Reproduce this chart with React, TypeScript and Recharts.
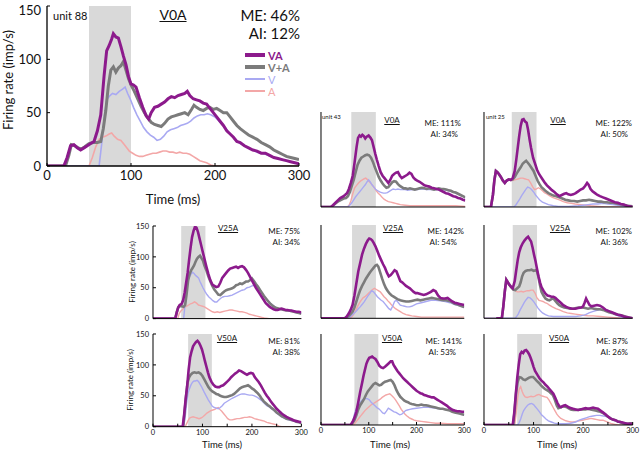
import React from 'react';
import { LineChart, Line, XAxis, YAxis, ReferenceArea } from 'recharts';

type Pt = [number, number];

// colours
const PURPLE = '#8c1a8c';
const GRAY = '#7b7b7b';
const LAV = '#a9a9f2';
const PINK = '#f3a7a7';
const BOX = '#d9d9d9';
const FONT = 'Lato, "Open Sans", sans-serif';

// ---- unit 88, V0A (big panel) ----
const u88VA: Pt[] = [[0,0],[20,0],[24,8],[28,19],[32,20],[36,17],[40,15],[44,17],[48,19],[52,21],[56,23],[60,33],[64,48],[68,85],[71,108],[74,113],[77,119],[79,124],[82,121],[85,120],[88,112],[91,103],[94,95],[97,84],[100,77],[103,76],[106,74],[110,64],[114,55],[118,47],[121,44],[124,50],[128,55],[132,56],[136,58],[140,60],[144,63],[148,65],[152,64],[156,66],[160,67],[164,68],[167,70],[170,66],[174,63],[178,62],[182,61],[186,59],[190,58],[194,54],[198,50],[202,46],[206,42],[210,38],[214,33],[218,30],[222,27],[226,23],[230,22],[235,19],[240,17],[245,15],[250,14],[255,12],[260,12],[265,10],[270,8],[275,7],[280,6],[285,5],[290,4],[295,3],[300,2]];
const u88VpA: Pt[] = [[0,0],[22,0],[26,10],[29,20],[33,19],[37,17],[41,16],[45,18],[50,21],[55,22],[60,22],[64,23],[67,35],[70,52],[73,75],[76,90],[79,93],[82,88],[85,92],[88,94],[91,98],[94,90],[97,82],[100,76],[104,70],[108,63],[112,56],[116,50],[120,45],[124,41],[128,39],[132,38],[136,37],[140,40],[144,44],[148,46],[152,47],[156,48],[160,49],[164,50],[168,48],[172,53],[175,57],[178,55],[182,53],[186,52],[190,54],[194,55],[198,53],[202,54],[206,52],[210,50],[214,50],[218,46],[222,42],[226,38],[230,35],[235,32],[240,29],[245,27],[250,25],[255,22],[260,20],[265,18],[270,15],[275,13],[280,11],[285,9],[290,8],[295,7],[300,6]];
const u88V: Pt[] = [[0,0],[62,0],[65,20],[68,45],[71,62],[75,66],[78,68],[82,67],[86,70],[90,72],[93,74],[96,68],[99,63],[103,55],[107,48],[111,42],[115,36],[119,32],[123,29],[127,27],[131,24],[135,25],[139,28],[143,32],[147,34],[151,35],[155,36],[159,38],[163,39],[167,40],[171,42],[175,45],[179,47],[183,48],[187,48],[191,49],[195,48],[200,46],[206,41],[212,36],[218,30],[224,25],[230,21],[240,17],[250,13],[260,11],[270,8],[280,6],[290,4],[300,2]];
const u88A: Pt[] = [[0,0],[50,0],[54,8],[58,18],[62,25],[66,27],[70,28],[74,30],[77,31],[80,28],[84,25],[88,24],[91,21],[94,18],[98,14],[102,12],[106,10],[110,9],[114,9],[118,10],[122,11],[126,12],[130,12],[134,13],[138,14],[142,14],[146,13],[150,13],[154,12],[158,13],[162,12],[166,12],[170,11],[174,9],[178,7],[182,5],[186,4],[190,3],[195,1],[200,0],[300,0]];

// ---- unit 43, V0A ----
const u43VA: Pt[] = [[0,0],[20,0],[25,3],[30,7],[35,11],[40,15],[45,17],[50,20],[54,23],[58,30],[62,40],[66,52],[70,75],[74,100],[77,115],[80,119],[83,117],[86,120],[89,118],[92,114],[95,117],[99,119],[103,115],[106,111],[110,98],[113,88],[116,79],[120,68],[124,58],[128,52],[132,48],[136,44],[140,40],[144,45],[148,52],[152,55],[156,57],[160,58],[164,52],[168,48],[172,50],[176,52],[180,54],[184,57],[188,55],[192,49],[196,46],[200,44],[205,42],[210,39],[215,36],[220,35],[225,34],[230,32],[235,31],[240,30],[245,29],[250,27],[255,25],[260,23],[265,22],[270,20],[275,18],[280,17],[285,15],[290,14],[295,12],[300,11]];
const u43VpA: Pt[] = [[0,0],[22,0],[27,4],[32,7],[37,10],[42,12],[47,14],[52,15],[56,18],[60,25],[64,35],[68,45],[72,58],[76,70],[80,77],[84,82],[88,84],[92,86],[96,87],[100,86],[104,82],[108,75],[112,66],[116,58],[120,50],[124,44],[128,39],[132,35],[136,32],[140,33],[144,37],[148,41],[152,43],[156,42],[160,38],[164,35],[168,33],[172,31],[176,31],[180,30],[185,31],[190,30],[195,29],[200,30],[205,31],[210,32],[215,31],[220,30],[225,31],[230,30],[235,29],[240,30],[245,31],[250,30],[255,30],[260,29],[265,28],[270,27],[275,25],[280,24],[285,22],[290,20],[295,18],[300,16]];
const u43V: Pt[] = [[0,0],[55,0],[60,3],[64,7],[68,12],[72,17],[76,21],[80,25],[84,29],[88,33],[92,37],[96,42],[99,45],[102,42],[106,37],[110,33],[114,29],[118,27],[122,25],[126,24],[130,23],[134,23],[138,24],[142,26],[146,28],[150,30],[155,29],[160,30],[165,29],[170,29],[175,29],[180,28],[190,29],[200,29],[210,30],[220,29],[230,29],[240,29],[250,29],[260,28],[270,26],[280,23],[290,20],[300,15]];
const u43A: Pt[] = [[0,0],[55,0],[59,4],[62,10],[66,22],[70,32],[74,36],[78,40],[82,43],[86,45],[90,47],[93,48],[96,46],[99,43],[103,40],[107,36],[111,32],[115,27],[119,23],[123,20],[127,16],[131,13],[135,11],[140,9],[145,8],[150,7],[155,6],[160,5],[165,4],[175,3],[185,2],[200,2],[220,2],[240,2],[260,2],[280,2],[300,1]];

// ---- unit 25, V0A ----
const u25VA: Pt[] = [[0,0],[14,0],[18,20],[21,45],[24,60],[27,58],[30,55],[34,50],[38,44],[42,40],[46,44],[50,46],[54,45],[58,48],[62,60],[65,78],[68,98],[71,118],[74,135],[77,145],[80,146],[83,142],[86,140],[89,128],[92,112],[95,98],[99,82],[103,72],[107,62],[111,55],[115,50],[119,45],[123,40],[127,36],[132,32],[137,28],[142,25],[147,21],[152,18],[157,20],[162,22],[166,23],[170,21],[175,20],[180,21],[185,23],[190,26],[195,29],[200,31],[204,35],[208,40],[211,37],[215,30],[219,26],[224,23],[229,20],[234,18],[240,16],[246,14],[252,12],[258,10],[264,8],[270,7],[276,5],[282,4],[288,2],[294,1],[300,0]];
const u25VpA: Pt[] = [[0,0],[14,0],[18,20],[21,45],[24,60],[27,58],[30,55],[34,50],[38,44],[42,40],[46,44],[50,46],[54,45],[58,46],[62,50],[66,56],[70,61],[74,66],[78,72],[82,75],[85,77],[88,74],[92,70],[96,65],[100,60],[104,52],[108,44],[112,38],[116,33],[120,30],[125,26],[130,23],[135,21],[140,19],[146,18],[152,16],[158,14],[164,12],[170,11],[176,10],[182,10],[188,9],[194,10],[200,11],[206,11],[212,12],[218,11],[224,10],[230,9],[236,9],[242,8],[248,8],[254,7],[260,7],[266,6],[272,5],[278,4],[284,3],[290,2],[300,1]];
const u25V: Pt[] = [[0,0],[60,0],[64,3],[68,8],[72,13],[76,19],[80,24],[84,29],[88,33],[92,32],[96,29],[100,25],[104,20],[108,16],[112,12],[118,8],[124,6],[130,4],[140,2],[150,1],[170,1],[190,2],[200,3],[210,4],[220,5],[230,5],[240,6],[250,5],[260,4],[270,3],[280,1],[290,0],[300,0]];
const u25A: Pt[] = [[0,0],[14,0],[18,20],[21,45],[24,60],[27,58],[30,55],[34,50],[38,44],[42,40],[46,44],[50,46],[54,45],[58,44],[62,45],[66,46],[70,47],[74,48],[78,48],[82,47],[86,46],[90,45],[94,40],[98,34],[102,29],[106,30],[110,32],[114,30],[118,27],[122,24],[126,22],[132,19],[138,16],[145,14],[152,12],[160,9],[168,7],[176,6],[184,5],[195,4],[205,3],[215,2],[230,1],[245,0],[300,0]];

// ---- V25A, ME 75% ----
const r2lVA: Pt[] = [[0,0],[45,0],[48,10],[51,18],[54,22],[58,24],[61,30],[64,42],[67,58],[70,74],[73,95],[76,115],[79,132],[82,142],[85,149],[88,147],[91,140],[94,130],[97,120],[100,110],[104,97],[108,84],[112,72],[116,62],[120,55],[124,53],[128,51],[132,52],[136,58],[140,66],[144,70],[148,74],[152,78],[156,81],[160,82],[164,83],[168,84],[172,82],[176,84],[180,85],[184,83],[188,79],[192,74],[196,68],[200,62],[204,56],[208,50],[212,45],[216,40],[220,35],[224,30],[228,25],[232,22],[236,19],[240,17],[244,15],[248,14],[252,14],[256,15],[260,16],[264,15],[268,14],[272,14],[276,13],[280,13],[285,12],[290,11],[295,11],[300,10]];
const r2lVpA: Pt[] = [[0,0],[45,0],[48,10],[51,18],[54,21],[58,20],[62,19],[65,22],[68,40],[71,62],[74,72],[77,78],[80,82],[83,86],[86,92],[89,97],[92,100],[95,102],[98,98],[101,94],[104,86],[108,78],[112,68],[116,60],[120,53],[124,47],[128,43],[132,39],[136,38],[140,41],[144,44],[148,46],[152,47],[156,48],[160,49],[164,51],[168,54],[172,55],[176,57],[180,56],[184,58],[188,60],[192,60],[196,62],[200,65],[204,61],[208,56],[212,52],[216,47],[220,42],[224,37],[228,33],[232,29],[236,25],[240,22],[245,19],[250,17],[255,16],[260,15],[265,14],[270,13],[275,13],[280,12],[285,11],[290,10],[295,9],[300,8]];
const r2lV: Pt[] = [[0,0],[62,0],[65,25],[68,50],[71,62],[74,68],[77,72],[80,75],[83,73],[86,70],[89,68],[92,66],[95,60],[98,55],[101,50],[105,44],[109,39],[113,35],[117,32],[121,29],[125,27],[129,27],[133,30],[137,33],[141,35],[145,36],[150,36],[155,37],[160,38],[165,40],[170,42],[175,44],[180,46],[185,47],[190,50],[195,51],[200,53],[205,54],[210,52],[215,48],[220,42],[225,36],[230,31],[235,27],[240,23],[245,20],[250,17],[255,16],[260,15],[270,13],[280,12],[290,10],[300,8]];
const r2lA: Pt[] = [[0,0],[50,0],[53,8],[56,12],[60,15],[64,18],[68,20],[72,22],[76,24],[80,25],[84,27],[88,25],[92,22],[96,21],[100,20],[104,19],[108,17],[112,15],[116,13],[120,11],[125,10],[130,11],[135,10],[140,11],[145,12],[150,13],[155,14],[160,14],[165,13],[170,12],[175,11],[180,11],[185,10],[190,9],[195,7],[200,6],[205,5],[210,4],[215,3],[220,2],[225,1],[235,0],[300,0]];

// ---- V25A, ME 142% ----
const r2mVA: Pt[] = [[0,0],[50,0],[54,3],[58,8],[62,14],[66,22],[70,38],[74,58],[78,78],[82,92],[86,106],[90,116],[94,124],[98,130],[101,133],[104,132],[107,130],[110,126],[114,120],[118,112],[122,104],[126,97],[130,90],[134,84],[138,76],[142,70],[146,72],[150,76],[154,80],[158,78],[162,70],[166,62],[170,60],[174,57],[178,54],[182,52],[186,50],[190,47],[194,44],[198,42],[202,42],[206,41],[210,40],[215,39],[220,40],[225,42],[230,44],[235,47],[240,45],[245,38],[250,34],[255,33],[260,33],[265,34],[270,31],[275,28],[280,26],[285,25],[290,24],[295,23],[300,22]];
const r2mVpA: Pt[] = [[0,0],[50,0],[54,2],[58,4],[62,7],[66,11],[70,18],[74,28],[78,38],[82,47],[86,54],[90,60],[94,66],[98,71],[102,76],[106,80],[110,84],[114,88],[117,89],[120,86],[124,76],[128,66],[132,57],[136,50],[140,45],[144,41],[148,38],[152,36],[156,34],[160,32],[166,30],[172,29],[178,28],[184,28],[190,29],[196,30],[202,31],[208,30],[214,31],[220,32],[226,33],[232,34],[238,33],[244,32],[250,31],[256,30],[262,30],[268,29],[274,27],[280,24],[286,23],[292,21],[300,19]];
const r2mV: Pt[] = [[0,0],[58,0],[62,3],[66,6],[70,9],[74,12],[78,16],[82,19],[86,23],[90,27],[94,32],[98,37],[102,41],[106,46],[110,44],[114,40],[118,36],[122,33],[126,30],[130,28],[134,24],[138,20],[142,16],[146,14],[150,20],[154,28],[158,30],[162,26],[166,22],[170,21],[175,20],[180,19],[185,19],[190,20],[195,22],[200,24],[210,26],[220,28],[230,30],[240,30],[250,29],[260,28],[270,26],[280,23],[290,21],[300,18]];
const r2mA: Pt[] = [[0,0],[60,0],[64,2],[68,6],[72,12],[76,19],[80,25],[84,30],[88,34],[92,36],[96,39],[100,42],[104,45],[108,48],[112,50],[116,48],[120,46],[124,44],[128,40],[132,36],[136,33],[140,29],[144,26],[148,22],[152,19],[156,16],[160,14],[166,11],[172,8],[178,6],[184,5],[190,4],[200,3],[210,2],[225,2],[240,2],[260,2],[280,2],[300,2]];

// ---- V25A, ME 102% ----
const r2rVA: Pt[] = [[25,0],[36,0],[39,20],[42,45],[45,64],[48,60],[51,56],[55,52],[58,50],[62,62],[65,80],[68,97],[71,110],[74,118],[78,125],[82,130],[86,134],[89,136],[92,132],[95,128],[98,118],[101,106],[104,95],[107,82],[110,70],[113,60],[116,52],[120,46],[124,41],[128,38],[132,37],[136,36],[140,36],[144,34],[148,31],[152,28],[156,25],[160,22],[166,19],[172,17],[178,16],[184,16],[190,17],[196,18],[200,20],[203,26],[206,33],[209,28],[213,22],[217,20],[222,21],[228,22],[234,21],[240,18],[246,14],[252,12],[258,10],[264,8],[270,6],[276,5],[282,3],[288,2],[294,1],[300,0]];
const r2rVpA: Pt[] = [[25,0],[36,0],[39,20],[42,45],[45,64],[48,60],[51,56],[55,52],[59,48],[63,47],[67,50],[71,53],[74,60],[77,70],[80,76],[84,79],[88,80],[92,80],[96,81],[100,79],[104,80],[107,78],[110,68],[113,55],[116,44],[120,38],[124,33],[128,31],[132,30],[136,32],[140,33],[144,29],[148,25],[152,22],[156,20],[162,18],[168,17],[174,16],[180,16],[186,17],[192,18],[198,18],[204,17],[210,16],[216,17],[222,16],[228,15],[234,15],[240,14],[246,12],[252,10],[258,9],[264,7],[270,6],[276,5],[282,4],[288,2],[294,1],[300,0]];
const r2rV: Pt[] = [[0,0],[62,0],[65,2],[69,7],[73,14],[77,20],[81,26],[85,31],[89,35],[93,34],[97,31],[101,27],[105,22],[109,17],[113,13],[118,9],[124,6],[130,4],[140,3],[155,3],[170,3],[185,3],[195,4],[205,6],[212,9],[219,11],[226,13],[233,14],[240,15],[247,14],[254,11],[261,8],[268,5],[275,3],[282,1],[290,0],[300,0]];
const r2rA: Pt[] = [[0,0],[36,0],[39,20],[42,45],[45,64],[48,60],[51,56],[55,52],[59,48],[63,46],[67,44],[71,44],[75,45],[79,44],[83,45],[87,46],[91,46],[95,47],[99,47],[103,42],[107,34],[111,30],[115,29],[119,28],[123,26],[127,25],[132,22],[138,19],[145,16],[152,14],[160,11],[168,9],[176,8],[184,7],[192,6],[200,5],[210,4],[220,4],[235,3],[250,2],[265,1],[280,0],[300,0]];

// ---- V50A, ME 81% ----
const r3lVA: Pt[] = [[0,0],[60,0],[63,20],[66,45],[69,65],[72,92],[75,112],[78,122],[81,130],[84,134],[87,137],[90,139],[93,136],[96,131],[99,125],[102,116],[105,106],[108,97],[111,88],[114,80],[118,73],[122,68],[126,65],[130,64],[134,64],[138,66],[142,67],[146,70],[150,73],[154,76],[158,80],[162,83],[166,86],[170,88],[174,91],[178,90],[182,88],[186,86],[190,84],[194,86],[198,87],[202,86],[206,80],[210,76],[214,72],[218,67],[222,61],[226,55],[230,50],[234,46],[238,41],[242,37],[246,33],[250,29],[254,26],[258,23],[262,20],[266,18],[270,16],[275,14],[280,12],[285,10],[290,9],[295,8],[300,7]];
const r3lVpA: Pt[] = [[0,0],[61,0],[64,25],[67,50],[70,72],[73,80],[76,84],[80,87],[84,88],[88,87],[92,88],[96,86],[100,82],[104,76],[108,70],[112,64],[116,60],[120,57],[124,55],[128,53],[132,52],[136,50],[140,49],[144,48],[148,48],[152,49],[156,50],[160,51],[164,53],[168,56],[172,59],[176,62],[180,64],[184,65],[188,66],[192,67],[196,65],[200,62],[204,60],[208,57],[212,54],[216,50],[220,45],[224,41],[228,38],[232,35],[236,33],[240,30],[245,27],[250,23],[255,20],[260,17],[265,15],[270,13],[275,12],[280,11],[285,10],[290,8],[295,7],[300,6]];
const r3lV: Pt[] = [[0,0],[62,0],[65,15],[68,38],[71,55],[74,62],[77,68],[80,72],[83,74],[86,74],[89,75],[92,73],[95,69],[98,65],[101,60],[104,55],[108,49],[112,43],[116,38],[120,33],[124,31],[128,30],[132,29],[136,31],[140,34],[144,38],[148,40],[152,42],[156,44],[160,46],[165,48],[170,50],[175,52],[180,53],[185,53],[190,52],[195,51],[200,51],[205,50],[210,48],[215,45],[220,42],[225,38],[230,34],[235,32],[240,29],[245,26],[250,22],[255,19],[260,16],[265,14],[270,12],[280,10],[290,8],[300,6]];
const r3lA: Pt[] = [[0,0],[65,0],[68,5],[71,10],[74,14],[77,15],[81,16],[85,15],[89,14],[93,13],[97,14],[101,16],[105,19],[109,22],[113,24],[117,26],[121,27],[125,28],[129,30],[132,31],[135,28],[139,25],[143,21],[147,17],[151,13],[155,11],[160,11],[165,12],[170,13],[175,13],[180,14],[185,15],[190,15],[195,16],[200,15],[205,13],[210,12],[215,11],[220,10],[225,9],[230,7],[235,6],[240,5],[245,4],[250,3],[255,1],[260,0],[300,0]];

// ---- V50A, ME 141% ----
const r3mVA: Pt[] = [[0,0],[62,0],[66,5],[70,12],[74,22],[78,38],[82,55],[86,70],[89,82],[92,92],[95,102],[98,108],[101,112],[104,113],[107,114],[110,112],[114,110],[118,105],[122,99],[126,96],[130,95],[134,97],[138,100],[142,103],[146,106],[149,106],[152,100],[156,95],[160,90],[164,86],[168,82],[172,78],[176,75],[180,72],[184,69],[188,66],[192,63],[196,60],[200,57],[204,55],[208,53],[212,52],[216,50],[220,49],[224,48],[228,47],[232,46],[236,46],[240,44],[244,42],[248,40],[252,38],[256,36],[260,34],[264,32],[268,29],[272,27],[276,25],[280,24],[285,23],[290,23],[295,22],[300,22]];
const r3mVpA: Pt[] = [[0,0],[62,0],[66,3],[70,8],[74,16],[78,26],[82,33],[86,38],[90,43],[94,50],[98,56],[102,60],[106,64],[110,68],[114,70],[118,68],[122,66],[126,67],[130,70],[134,72],[138,73],[142,74],[146,75],[150,72],[154,66],[158,58],[162,52],[166,47],[170,44],[174,41],[178,39],[182,38],[186,36],[190,35],[195,34],[200,33],[205,33],[210,34],[215,33],[220,33],[225,32],[230,31],[235,30],[240,29],[245,28],[250,27],[255,27],[260,26],[265,25],[270,24],[275,22],[280,21],[285,20],[290,19],[295,18],[300,17]];
const r3mV: Pt[] = [[0,0],[64,0],[67,8],[70,18],[73,26],[77,32],[81,37],[85,41],[89,43],[93,44],[97,44],[101,42],[105,38],[109,35],[113,32],[117,29],[121,27],[125,24],[129,20],[133,19],[137,23],[141,28],[145,26],[149,24],[153,22],[157,21],[161,19],[165,17],[169,18],[173,21],[177,24],[181,25],[186,26],[192,27],[200,28],[210,29],[220,30],[230,29],[240,28],[250,27],[260,26],[270,24],[280,21],[290,19],[300,17]];
const r3mA: Pt[] = [[0,0],[68,0],[72,4],[76,8],[80,12],[84,16],[88,20],[92,24],[96,27],[100,30],[104,33],[108,35],[112,37],[116,39],[120,41],[124,43],[128,46],[132,48],[136,50],[140,51],[144,52],[148,49],[152,46],[156,42],[160,37],[164,32],[168,26],[172,22],[176,18],[180,15],[185,12],[190,10],[195,8],[200,7],[210,6],[220,5],[230,4],[240,3],[250,3],[265,2],[280,2],[300,2]];

// ---- V50A, ME 87% ----
const r3rVA: Pt[] = [[0,0],[58,0],[61,20],[64,50],[67,78],[70,100],[73,118],[76,122],[79,120],[82,124],[85,125],[88,122],[91,118],[94,112],[97,105],[100,97],[103,90],[106,86],[109,82],[112,78],[116,74],[120,71],[124,67],[128,64],[132,60],[136,56],[140,52],[144,45],[148,37],[152,31],[156,30],[160,32],[164,33],[168,31],[172,29],[176,28],[180,27],[185,26],[190,25],[195,26],[200,27],[205,28],[210,27],[215,28],[220,29],[225,28],[230,27],[235,24],[240,21],[245,18],[250,14],[255,11],[260,9],[265,8],[270,6],[275,5],[280,4],[285,3],[290,2],[295,2],[300,2]];
const r3rVpA: Pt[] = [[0,0],[59,0],[62,25],[65,55],[68,72],[71,80],[75,79],[79,76],[83,75],[87,77],[91,79],[95,80],[99,80],[103,77],[107,73],[111,70],[115,66],[119,63],[123,60],[127,58],[131,56],[135,53],[139,50],[143,42],[147,32],[150,28],[154,29],[158,31],[162,31],[166,30],[170,28],[175,26],[180,25],[185,25],[190,25],[195,26],[200,26],[205,26],[210,27],[215,26],[220,25],[225,24],[230,23],[235,22],[240,20],[245,17],[250,14],[255,11],[260,9],[265,8],[270,6],[275,5],[280,3],[285,2],[290,2],[295,3],[300,3]];
const r3rV: Pt[] = [[0,0],[68,0],[71,4],[74,10],[77,18],[80,24],[84,29],[88,33],[92,35],[96,36],[100,34],[104,30],[108,26],[112,22],[116,17],[120,14],[125,10],[130,7],[136,5],[142,3],[148,2],[155,2],[165,2],[175,3],[185,5],[192,8],[199,10],[206,12],[213,14],[220,15],[227,16],[234,16],[241,15],[248,14],[255,12],[262,9],[268,6],[274,4],[280,2],[286,0],[300,0]];
const r3rA: Pt[] = [[0,0],[62,0],[65,20],[68,45],[71,60],[74,64],[77,56],[80,50],[83,47],[87,46],[91,47],[95,48],[99,47],[103,48],[107,50],[111,51],[115,49],[119,48],[123,47],[127,46],[131,42],[135,36],[139,30],[143,24],[147,18],[151,14],[155,11],[160,9],[165,7],[170,6],[175,5],[180,5],[186,6],[192,7],[198,8],[204,9],[210,10],[216,11],[222,10],[228,9],[234,8],[240,8],[246,6],[252,4],[258,2],[264,1],[270,0],[300,0]];

const yTicks = [0, 50, 100, 150];
const bigXTicks = [0, 100, 200, 300];
const smallXTicks = [0, 50, 100, 150, 200, 250, 300];

const rows = (pts: Pt[]) => pts.map(([t, v]) => ({ t, v }));

interface PanelProps {
  x: number; y: number; w: number; h: number; yMax: number;
  box: [number, number];
  va: Pt[]; vpa: Pt[]; v: Pt[]; a: Pt[];
  big?: boolean; yLabels?: boolean; xLabels?: boolean;
}

const Panel = ({ x, y, w, h, yMax, box, va, vpa, v, a, big, yLabels, xLabels }: PanelProps) => {
  const AX = big ? 46 : 30;
  const XH = big ? 24 : 16;
  const PAD = 4;
  const PADR = big ? 14 : 10;
  const fs = big ? 13 : 7.5;
  const thick = big ? 3 : 2.6;
  const thin = big ? 1.6 : 1.4;
  return (
    <div style={{ position: 'absolute', left: x - AX, top: y - PAD }}>
      <LineChart width={AX + w + PADR} height={PAD + h + XH} margin={{ top: PAD, right: PADR, left: 0, bottom: 0 }}>
        <XAxis
          dataKey="t" type="number" domain={[0, 300]} allowDataOverflow
          ticks={big ? bigXTicks : smallXTicks}
          tickFormatter={(t: number) => (t % 100 === 0 ? String(t) : '')}
          tick={xLabels ? { fill: '#111', fontSize: fs } : false}
          tickSize={-3} tickMargin={big ? 8 : 6} height={XH}
          axisLine={{ stroke: '#000', strokeWidth: big ? 1.3 : 1 }} tickLine={{ stroke: '#000' }}
        />
        <YAxis
          type="number" domain={[0, yMax]} allowDataOverflow ticks={yTicks}
          tick={yLabels ? { fill: '#111', fontSize: fs } : false}
          tickSize={-3} tickMargin={big ? 9 : 7} width={AX}
          axisLine={{ stroke: '#000', strokeWidth: big ? 1.3 : 1 }} tickLine={{ stroke: '#000' }}
        />
        <ReferenceArea x1={box[0]} x2={box[1]} y1={0} y2={yMax} fill={BOX} fillOpacity={1} stroke="none" />
        <Line data={rows(a)} dataKey="v" stroke={PINK} strokeWidth={thin} dot={false} activeDot={false} isAnimationActive={false} />
        <Line data={rows(v)} dataKey="v" stroke={LAV} strokeWidth={thin} dot={false} activeDot={false} isAnimationActive={false} />
        <Line data={rows(vpa)} dataKey="v" stroke={GRAY} strokeWidth={thick} dot={false} activeDot={false} isAnimationActive={false} />
        <Line data={rows(va)} dataKey="v" stroke={PURPLE} strokeWidth={thick} dot={false} activeDot={false} isAnimationActive={false} />
      </LineChart>
    </div>
  );
};

// absolutely placed text; anchor: 'start' | 'middle' | 'end'
const T = ({ x, y, size, anchor = 'start', color = '#111', bold, underline, rotate, children }: any) => {
  const tx = anchor === 'middle' ? '-50%' : anchor === 'end' ? '-100%' : '0';
  return (
    <div
      style={{
        position: 'absolute', left: x, top: y, fontSize: size, lineHeight: 1, color, whiteSpace: 'nowrap',
        fontWeight: bold ? 700 : 400, textDecoration: underline ? 'underline' : 'none',
        transform: rotate ? 'translate(-50%, -50%) rotate(-90deg)' : `translate(${tx}, -50%)`,
      }}
    >
      {children}
    </div>
  );
};

const LegendRow = ({ y, color, width, label, bold }: any) => (
  <>
    <div style={{ position: 'absolute', left: 245, top: y - width / 2, width: 20, height: width, background: color }} />
    <T x={268} y={y} size={11} color={color} bold={bold}>{label}</T>
  </>
);

const Stats = ({ cx, ty, rx, me, ai, cond, aiX }: any) => (
  <>
    <T x={cx} y={ty} size={8} anchor="middle" underline>{cond}</T>
    <T x={rx} y={ty + 3} size={8} anchor="end">{me}</T>
    <T x={aiX ?? rx} y={ty + 14} size={8} anchor="end">{ai}</T>
  </>
);

export default function App() {
  return (
    <div style={{ position: 'absolute', left: 0, top: 0, width: 640, height: 450, background: '#fff', overflow: 'hidden', fontFamily: FONT }}>
      {/* big panel */}
      <Panel x={46.7} y={6} w={252} h={160} yMax={150} box={[50, 100]} va={u88VA} vpa={u88VpA} v={u88V} a={u88A} big yLabels xLabels />
      <T x={53} y={15} size={11}>unit 88</T>
      <T x={173} y={15} size={14} anchor="middle" underline>V0A</T>
      <T x={300} y={15} size={15} anchor="end">ME: 46%</T>
      <T x={300} y={33} size={15} anchor="end">AI: 12%</T>
      <LegendRow y={55} color={PURPLE} width={3.5} label="VA" bold />
      <LegendRow y={67} color={GRAY} width={3.5} label="V+A" bold />
      <LegendRow y={79} color={LAV} width={1.6} label="V" />
      <LegendRow y={91} color={PINK} width={1.6} label="A" />
      <T x={8} y={80} size={13} rotate>Firing rate (imp/s)</T>
      <T x={173} y={199} size={13} anchor="middle">Time (ms)</T>

      {/* row 1 */}
      <Panel x={320.7} y={112.3} w={144.3} h={95} yMax={158} box={[63, 114]} va={u43VA} vpa={u43VpA} v={u43V} a={u43A} />
      <T x={322} y={116.7} size={6}>unit 43</T>
      <Stats cx={392} ty={120} rx={461} aiX={458} cond="V0A" me="ME: 111%" ai="AI: 34%" />
      <Panel x={484.3} y={112.3} w={148.7} h={95} yMax={158} box={[56, 106]} va={u25VA} vpa={u25VpA} v={u25V} a={u25A} />
      <T x={486} y={116.7} size={6}>unit 25</T>
      <Stats cx={558} ty={120} rx={632} aiX={628} cond="V0A" me="ME: 122%" ai="AI: 50%" />

      {/* row 2 */}
      <Panel x={153.3} y={225.7} w={148.4} h={92.6} yMax={150} box={[57, 106]} va={r2lVA} vpa={r2lVpA} v={r2lV} a={r2lA} yLabels />
      <Stats cx={228} ty={228} rx={300} cond="V25A" me="ME: 75%" ai="AI: 34%" />
      <T x={131.5} y={272} size={8} rotate>Firing rate (imp/s)</T>
      <Panel x={320.7} y={225} w={143.3} h={93.3} yMax={155.5} box={[65, 115]} va={r2mVA} vpa={r2mVpA} v={r2mV} a={r2mA} />
      <Stats cx={393} ty={228} rx={464} aiX={457} cond="V25A" me="ME: 142%" ai="AI: 54%" />
      <Panel x={484.3} y={225} w={148.7} h={93.3} yMax={155.5} box={[58, 107]} va={r2rVA} vpa={r2rVpA} v={r2rV} a={r2rA} />
      <Stats cx={560} ty={228} rx={632} aiX={628} cond="V25A" me="ME: 102%" ai="AI: 36%" />

      {/* row 3 */}
      <Panel x={153.3} y={334} w={148.4} h={92.7} yMax={150} box={[71, 119]} va={r3lVA} vpa={r3lVpA} v={r3lV} a={r3lA} yLabels xLabels />
      <Stats cx={227} ty={338} rx={300} cond="V50A" me="ME: 81%" ai="AI: 38%" />
      <T x={130} y={380} size={8} rotate>Firing rate (imp/s)</T>
      <T x={222} y={445} size={9.5} anchor="middle">Time (ms)</T>
      <Panel x={320.7} y={334} w={143.3} h={91} yMax={151.7} box={[70, 120]} va={r3mVA} vpa={r3mVpA} v={r3mV} a={r3mA} xLabels />
      <Stats cx={392} ty={338} rx={462} aiX={456} cond="V50A" me="ME: 141%" ai="AI: 53%" />
      <T x={390} y={445} size={9.5} anchor="middle">Time (ms)</T>
      <Panel x={484.3} y={334} w={148.7} h={91} yMax={151.7} box={[67, 117]} va={r3rVA} vpa={r3rVpA} v={r3rV} a={r3rA} xLabels />
      <Stats cx={559} ty={338} rx={628} cond="V50A" me="ME: 87%" ai="AI: 26%" />
      <T x={557} y={445} size={9.5} anchor="middle">Time (ms)</T>
    </div>
  );
}
